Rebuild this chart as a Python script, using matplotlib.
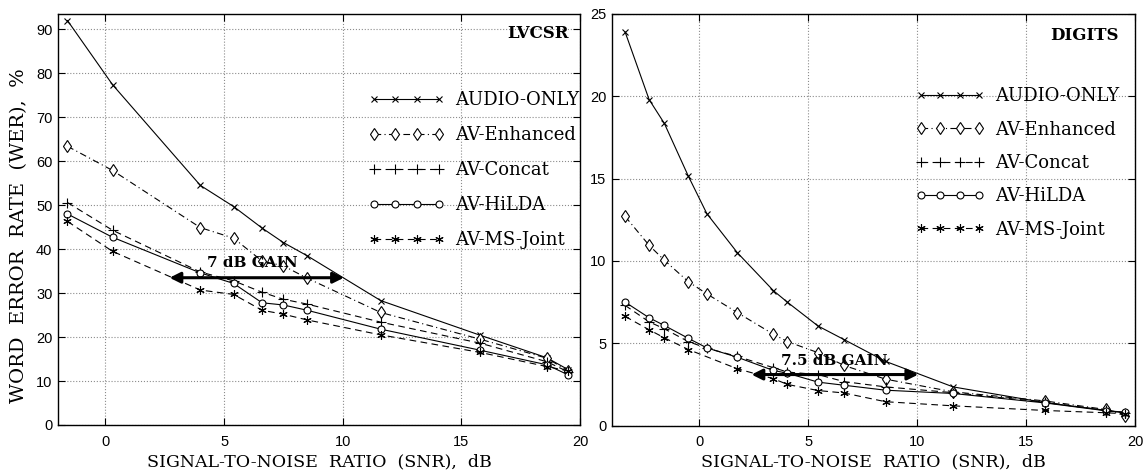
import matplotlib
matplotlib.use('Agg')
import matplotlib.pyplot as plt

# LVCSR task (left panel)
snr_lvcsr = [-1.6, 0.3, 4.0, 5.4, 6.6, 7.5, 8.5, 11.6, 15.8, 18.6, 19.5]
lv_audio = [92.0, 77.4, 54.5, 49.7, 44.8, 41.5, 38.5, 28.3, 20.4, 15.3, 12.6]
lv_enh = [63.4, 57.9, 44.9, 42.5, 37.3, 36.2, 33.4, 25.6, 19.5, 15.2, 12.3]
lv_concat = [50.6, 44.3, 34.8, 32.8, 30.2, 28.6, 27.5, 23.4, 18.6, 14.4, 12.1]
lv_hilda = [48.0, 42.7, 34.6, 32.2, 27.8, 27.3, 26.1, 21.8, 17.0, 13.7, 11.4]
lv_msjoint = [46.3, 39.5, 30.7, 29.7, 26.1, 25.2, 23.9, 20.5, 16.5, 13.3, 12.3]

# DIGITS task (right panel)
snr_dig = [-3.4, -2.3, -1.6, -0.5, 0.35, 1.75, 3.4, 4.05, 5.45, 6.65, 8.55, 11.65, 15.85, 18.65, 19.55]
dg_audio = [23.9, 19.8, 18.35, 15.15, 12.87, 10.5, 8.2, 7.49, 6.05, 5.22, 3.9, 2.35, 1.4, 0.93, 0.76]
dg_enh = [12.7, 10.95, 10.04, 8.74, 8.0, 6.86, 5.55, 5.1, 4.43, 3.65, 2.82, 2.05, 1.5, 0.98, 0.6]
dg_concat = [7.3, 6.3, 5.88, 5.1, 4.7, 4.2, 3.52, 3.25, 3.1, 2.67, 2.35, 2.0, 1.42, 0.92, 0.78]
dg_hilda = [7.5, 6.55, 6.08, 5.3, 4.72, 4.15, 3.35, 3.18, 2.64, 2.45, 2.15, 1.95, 1.38, 0.9, 0.82]
snr_dig_ms = [-3.4, -2.3, -1.6, -0.5, 1.75, 3.4, 4.05, 5.45, 6.65, 8.55, 11.65, 15.85, 18.65, 19.55]
dg_msjoint = [6.63, 5.82, 5.33, 4.62, 3.45, 2.85, 2.5, 2.13, 1.98, 1.45, 1.2, 0.92, 0.78, 0.72]

labels = ['AUDIO-ONLY', 'AV-Enhanced', 'AV-Concat', 'AV-HiLDA', 'AV-MS-Joint']

serif = 'DejaVu Serif'
plt.rcParams['font.family'] = 'Liberation Sans'

asterisk = (6, 2, 0)
styles = [
    dict(marker='x', ls='-', ms=4.5),
    dict(marker='d', ls=(0, (6, 3, 1, 3)), ms=6.5, mfc='white'),
    dict(marker='+', ls=(0, (6, 4)), ms=7),
    dict(marker='o', ls='-', ms=5, mfc='white'),
    dict(marker=asterisk, ls=(0, (6, 4)), ms=6),
]

fig = plt.figure(figsize=(11.44, 4.72), dpi=100)
ax1 = fig.add_axes([0.0507, 0.0996, 0.4563, 0.8708])
ax2 = fig.add_axes([0.535, 0.0983, 0.4572, 0.8723])


def draw(ax, series, xlim, ylim, yticks, title, leg_anchor, spacing, hlen):
    for (x, y), st, lab in zip(series, styles, labels):
        ax.plot(x, y, color='black', lw=0.8, mew=0.8, mec='black',
                label=lab, **st)
    ax.set_xlim(*xlim)
    ax.set_ylim(*ylim)
    ax.set_xticks([0, 5, 10, 15, 20])
    ax.set_yticks(yticks)
    ax.grid(True, ls=':', color='0.55', lw=0.8)
    ax.tick_params(direction='in', top=True, right=True, length=5,
                   labelsize=10.5, width=0.8)
    ax.tick_params(axis='x', pad=7)
    ax.tick_params(axis='y', pad=4)
    for s in ax.spines.values():
        s.set_linewidth(1.0)
    ax.set_xlabel('SIGNAL-TO-NOISE  RATIO  (SNR),  dB', family=serif,
                  fontsize=12.5, labelpad=3)
    ax.text(*title[1:], title[0], transform=ax.transAxes, ha='right',
            va='center', family=serif, fontweight='bold', fontsize=12)
    ax.legend(loc='center right', bbox_to_anchor=leg_anchor, frameon=False,
              numpoints=4, handlelength=hlen, labelspacing=spacing,
              borderpad=0, borderaxespad=0, handletextpad=0.6,
              prop={'family': serif, 'size': 13})


draw(ax1, [(snr_lvcsr, lv_audio), (snr_lvcsr, lv_enh), (snr_lvcsr, lv_concat),
           (snr_lvcsr, lv_hilda), (snr_lvcsr, lv_msjoint)],
     (-2, 20), (0, 93.5), range(0, 91, 10), ('LVCSR', 0.978, 0.952),
     (0.998, 0.62), 0.95, 4.2)
ax1.set_ylabel('WORD  ERROR  RATE  (WER),  %', family=serif, fontsize=14)
ax1.yaxis.set_label_coords(-0.058, 0.46)

draw(ax2, [(snr_dig, dg_audio), (snr_dig, dg_enh), (snr_dig, dg_concat),
           (snr_dig, dg_hilda), (snr_dig_ms, dg_msjoint)],
     (-4, 20), (0, 25), range(0, 26, 5), ('DIGITS', 0.968, 0.948),
     (0.97, 0.638), 0.85, 3.8)

# gain arrows
arrow = dict(arrowstyle='<|-|>', color='black', lw=2.2, mutation_scale=16,
             shrinkA=0, shrinkB=0)
ax1.annotate('', xy=(2.7, 33.5), xytext=(10.05, 33.5), arrowprops=arrow)
ax1.text(6.2, 36.8, '7 dB GAIN', ha='center', va='center', family=serif,
         fontweight='bold', fontsize=11)
ax2.annotate('', xy=(2.4, 3.1), xytext=(10.05, 3.1), arrowprops=arrow)
ax2.text(6.2, 3.9, '7.5 dB GAIN', ha='center', va='center', family=serif,
         fontweight='bold', fontsize=11)

fig.savefig('out.png', dpi=100)
